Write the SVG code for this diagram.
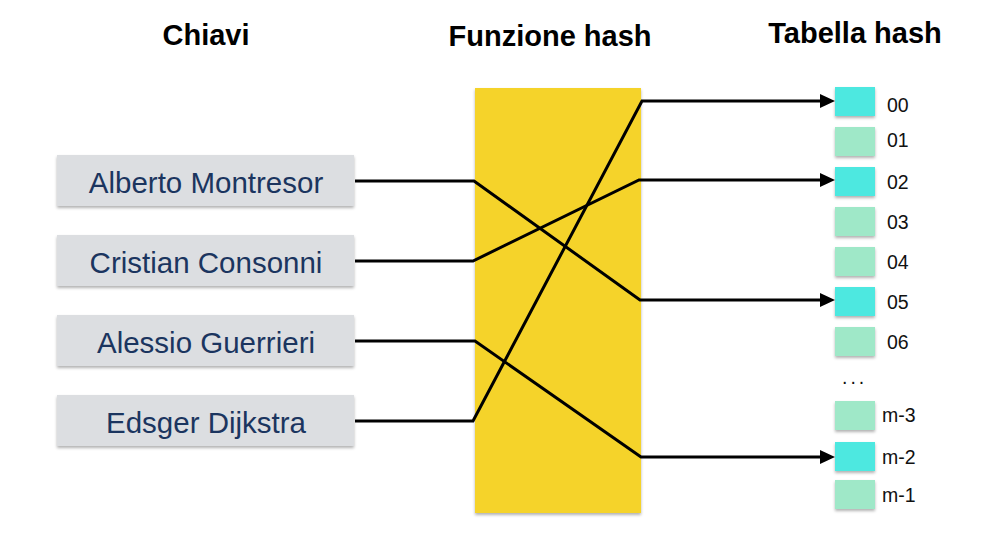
<svg xmlns="http://www.w3.org/2000/svg" width="993" height="549" viewBox="0 0 993 549">
<defs>
<filter id="sh" x="-10%" y="-20%" width="120%" height="150%">
<feDropShadow dx="0" dy="2" stdDeviation="1.5" flood-color="#000" flood-opacity="0.3"/>
</filter>
<marker id="ah" markerUnits="userSpaceOnUse" markerWidth="16" markerHeight="15" refX="0" refY="7" orient="auto">
<path d="M0,0 L15,7 L0,14 z" fill="#000"/>
</marker>
<style>
.title{font-family:"Liberation Sans",Arial,sans-serif;font-weight:bold;font-size:29px;fill:#000;text-anchor:middle}
.key rect{fill:#dcdee1;filter:url(#sh)}
.key text{font-family:"Liberation Sans",Arial,sans-serif;font-size:29.5px;fill:#1b355f;text-anchor:middle}
.slot rect{filter:url(#sh)}
.full{fill:#4ee8e0}
.empty{fill:#9fe8c8}
.slot text{font-family:"Liberation Sans",Arial,sans-serif;font-size:19.5px;fill:#111}
.conn polyline{fill:none;stroke:#000;stroke-width:3;stroke-linejoin:miter}
</style>
</defs>
<rect width="993" height="549" fill="#fff"/>
<text class="title" x="206" y="45">Chiavi</text>
<text class="title" x="550" y="46">Funzione hash</text>
<text class="title" x="855" y="43">Tabella hash</text>

<g id="hash-function"><rect x="475" y="88" width="166" height="425" fill="#f5d32b" filter="url(#sh)"/></g>

<g id="key-alberto" class="key"><rect x="57" y="155" width="297" height="51"/><text x="206" y="193">Alberto Montresor</text></g>
<g id="key-cristian" class="key"><rect x="57" y="235" width="297" height="51"/><text x="206" y="273">Cristian Consonni</text></g>
<g id="key-alessio" class="key"><rect x="57" y="315" width="297" height="51"/><text x="206" y="353">Alessio Guerrieri</text></g>
<g id="key-edsger" class="key"><rect x="57" y="395" width="297" height="51"/><text x="206" y="433">Edsger Dijkstra</text></g>

<g id="slot-00" class="slot"><rect class="full" x="835" y="87" width="40" height="29"/><text x="887" y="112">00</text></g>
<g id="slot-01" class="slot"><rect class="empty" x="835" y="127" width="40" height="29"/><text x="887" y="147">01</text></g>
<g id="slot-02" class="slot"><rect class="full" x="835" y="167" width="40" height="29"/><text x="887" y="189">02</text></g>
<g id="slot-03" class="slot"><rect class="empty" x="835" y="207" width="40" height="29"/><text x="887" y="229">03</text></g>
<g id="slot-04" class="slot"><rect class="empty" x="835" y="247" width="40" height="29"/><text x="887" y="269">04</text></g>
<g id="slot-05" class="slot"><rect class="full" x="835" y="287" width="40" height="29"/><text x="887" y="309">05</text></g>
<g id="slot-06" class="slot"><rect class="empty" x="835" y="327" width="40" height="29"/><text x="887" y="349">06</text></g>
<g id="ellipsis" class="slot"><text x="842" y="384" letter-spacing="3">...</text></g>
<g id="slot-m3" class="slot"><rect class="empty" x="835" y="401" width="40" height="29"/><text x="882" y="422">m-3</text></g>
<g id="slot-m2" class="slot"><rect class="full" x="835" y="442" width="40" height="29"/><text x="882" y="464">m-2</text></g>
<g id="slot-m1" class="slot"><rect class="empty" x="835" y="480" width="40" height="29"/><text x="882" y="502">m-1</text></g>

<g id="connectors" class="conn">
<polyline points="355,181 474,181 640,300 820,300" marker-end="url(#ah)"/>
<polyline points="355,261 473,261 639,180 820,180" marker-end="url(#ah)"/>
<polyline points="355,341 475,341 641,457 820,457" marker-end="url(#ah)"/>
<polyline points="355,421 473,421 642,101 820,101" marker-end="url(#ah)"/>
</g>
</svg>
